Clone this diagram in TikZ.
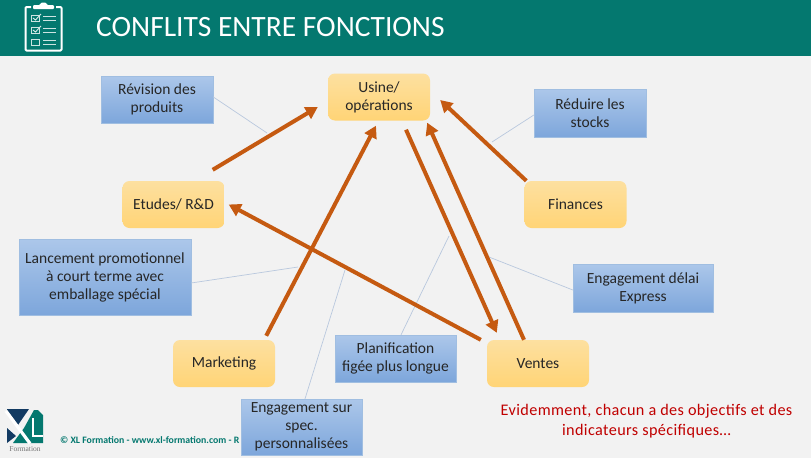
\documentclass[tikz,border=0pt]{standalone}
\usepackage{fontspec}
\setmainfont{Carlito}
\usetikzlibrary{calc,arrows.meta}
\definecolor{teal1}{HTML}{04786F}
\definecolor{bgc}{HTML}{F2F2F2}
\definecolor{arr}{HTML}{C55A11}
\definecolor{navy}{HTML}{123A62}
\newfontfamily\logoserif{Liberation Serif}
\tikzset{
 x=1pt,y=-1pt,
 orangebox/.style={draw=none,rounded corners=7pt,top color={rgb,255:red,253;green,224;blue,160},bottom color={rgb,255:red,255;green,212;blue,118},minimum width=102pt,minimum height=47pt,inner sep=0pt,align=center,font=\fontsize{15.5}{18}\selectfont,text=black!85,execute at begin node={\vspace*{2pt}}},
 bluebox/.style={draw={rgb,255:red,160;green,190;blue,225},line width=0.3pt,top color={rgb,255:red,172;green,199;blue,234},bottom color={rgb,255:red,125;green,166;blue,219},inner sep=0pt,align=center,font=\fontsize{15.5}{18}\selectfont,text=black!85,execute at begin node={\vspace*{2pt}}},
 thinl/.style={draw={rgb,255:red,185;green,200;blue,222},line width=0.7pt},
 bigarrow/.style={draw=arr,line width=4pt,-{Triangle[length=12pt,width=13pt]}},
 icon/.style={draw=white,line width=1.2pt},
 iconfat/.style={draw=white,line width=2pt,line join=round},
}
\begin{document}
\begin{tikzpicture}
\useasboundingbox (0,0) rectangle (811,458);
\fill[bgc] (0,0) rectangle (811,458);
\fill[teal1] (0,0) rectangle (811,56);
% clipboard icon
\draw[iconfat,rounded corners=1pt] (31,7) -- (25.5,7) -- (25.5,50.5) -- (61.5,50.5) -- (61.5,7) -- (56,7);
\fill[white,rounded corners=1pt] (33,9) -- (33,5) -- (40,5) -- (41,2.5) -- (46,2.5) -- (47,5) -- (54,5) -- (54,9) -- cycle;
\foreach \yy in {15,27,39}{
  \draw[icon,line width=0.9pt,draw=white!80!teal1] (31.5,\yy) rectangle (39.5,\yy+6.5);
  \draw[icon,line width=0.9pt,draw=white!80!teal1] (43,\yy+1.5) -- (56,\yy+1.5) (43,\yy+5) -- (56,\yy+5);
}
\draw[white!85!teal1,line width=0.9pt] (33,18) -- (35.5,20) -- (41,14) (33,30) -- (35.5,32) -- (41,26);
\node[anchor=west,inner sep=0pt,text=white,font=\fontsize{29.5}{32}\selectfont] (title) at (96,27) {CONFLITS ENTRE FONCTIONS};
% logo
\fill[navy] (7,409) -- (29,409) -- (18,425) -- (7,411) -- cycle;
\fill[navy] (7,428) -- (16,436) -- (7,443) -- cycle;
\fill[teal1] (38,410) -- (43,415) -- (43,443) -- (13,443) -- (24,428) -- (34,410) -- cycle;
\draw[white,line width=3.2pt] (6,411) -- (30,443.5);
\draw[white,line width=2.6pt] (33,418) -- (33,436) -- (43,436);
\node[inner sep=0pt,text=black!55,font=\fontsize{7.5}{8}\logoserif] (logotext) at (25,449.5) {Formation};
\node[anchor=west,inner sep=0pt,text=teal1,font=\fontsize{9.8}{11}\selectfont\bfseries] (footer) at (60,440.5) {© XL Formation - www.xl-formation.com - R};
% blue boxes
\node[bluebox,minimum width=112pt,minimum height=47pt] (revision) at (157,99.5) {Révision des\\produits};
\node[bluebox,minimum width=112pt,minimum height=48pt] (reduire) at (590,113) {Réduire les\\stocks};
\node[bluebox,minimum width=172pt,minimum height=76pt] (lancement) at (105,277) {Lancement promotionnel\\à court terme avec\\emballage spécial};
\node[bluebox,minimum width=140pt,minimum height=48pt] (delai) at (643,288) {Engagement délai\\Express};
\node[bluebox,minimum width=121pt,minimum height=47pt] (planif) at (395.5,358.5) {Planification\\figée plus longue};
\node[bluebox,minimum width=121pt,minimum height=56pt] (spec) at (301.5,427) {Engagement sur\\spec.\\personnalisées};
% orange boxes
\node[orangebox] (usine) at (379,97) {Usine/\\opérations};
\node[orangebox] (etudes) at (173.5,204.5) {Etudes/ R\&D};
\node[orangebox] (finances) at (575.5,204.5) {Finances};
\node[orangebox] (marketing) at (224,363.5) {Marketing};
\node[orangebox] (ventes) at (538,363.5) {Ventes};
% thin connectors
\coordinate (j1) at (267,133);
\coordinate (j2) at (492,142);
\coordinate (j3) at (298,267);
\coordinate (j4) at (489,257);
\coordinate (j5) at (449,236);
\coordinate (j6) at (345,270);
\draw[thinl] ($(revision.north east)+(0,21)$) -- (j1);
\draw[thinl] ($(reduire.west)+(0,2)$) -- (j2);
\draw[thinl] ($(lancement.east)+(0,6)$) -- (j3);
\draw[thinl] ($(delai.west)+(0,2)$) -- (j4);
\draw[thinl] ($(planif.north)+(5.5,0)$) -- (j5);
\draw[thinl] ($(spec.north)+(3.5,0)$) -- (j6);
% big arrows
\draw[bigarrow] ($(etudes.north east)+(-12,-11)$) -- ($(usine.west)+(-10,10)$);
\draw[bigarrow] ($(marketing.north east)+(-9,-4)$) -- ($(usine.south)+(-3,5)$);
\draw[bigarrow] ($(ventes.north west)+(-6,0)$) -- ($(etudes.east)+(4,0)$);
\draw[bigarrow] ($(usine.south)+(27,9)$) -- ($(ventes.north west)+(10,-7)$);
\draw[bigarrow] ($(ventes.north)+(-14,0)$) -- ($(usine.south east)+(-3,2)$);
\draw[bigarrow] ($(finances.north west)+(2,0)$) -- ($(usine.east)+(10,3)$);
\node[align=center,inner sep=0pt,text={rgb,255:red,192;green,0;blue,0},font=\fontsize{16.2}{20.5}\selectfont\addfontfeature{LetterSpace=2.4}] (note) at (646.5,421) {Evidemment, chacun a des objectifs et des\\indicateurs spécifiques…};
\end{tikzpicture}
\end{document}
